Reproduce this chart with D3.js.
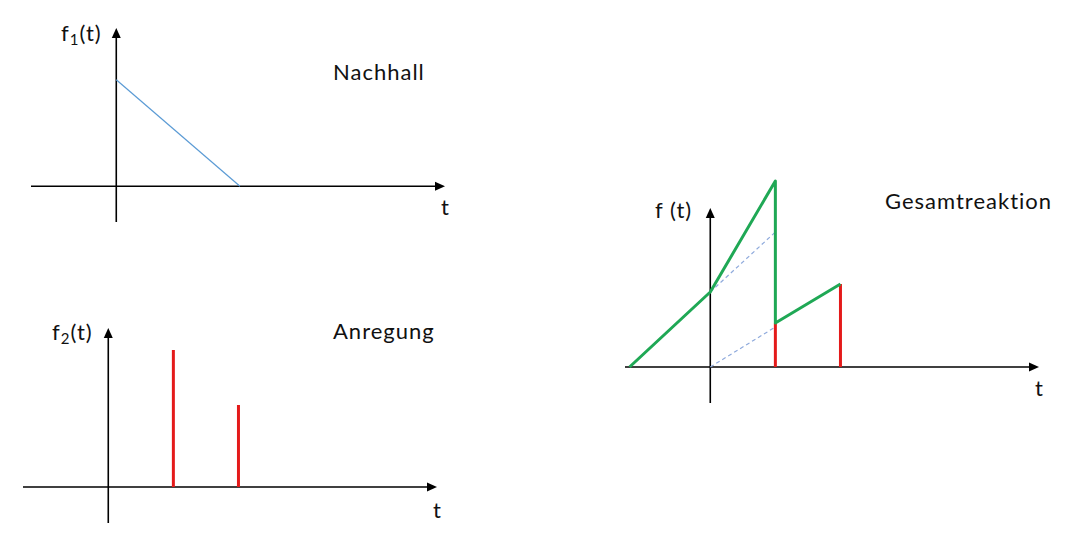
<!DOCTYPE html>
<html><head><meta charset="utf-8">
<script src="https://cdn.jsdelivr.net/npm/d3@7"></script>
<style>body{margin:0;background:#fff}svg{display:block}text{font-family:Lato,"Open Sans",sans-serif;fill:#111;letter-spacing:1px;font-variant-ligatures:none}</style>
</head><body>
<svg id="c" width="1086" height="545"></svg>
<script>
// Data (time units; amplitude units)
const nachhall = [{t:0, v:1.07}, {t:1.9, v:0}];
const anregung = [{t:1, v:1.37}, {t:2, v:0.82}];
const gesamt = [{t:-1.24, v:0}, {t:0, v:0.75}, {t:1, v:1.86}, {t:1, v:0.44}, {t:2, v:0.83}];
const gesamtPulses = [{t:1, v:0.44}, {t:2, v:0.83}];
const dashed1 = [{t:0, v:0.75}, {t:1, v:1.35}];
const dashed2 = [{t:0, v:0}, {t:1, v:0.40}];
const titles = ["Nachhall", "Anregung", "Gesamtreaktion"];
const ylabels = [["f","1","(t)"], ["f","2","(t)"], ["f ","","(t)"]];
const tDomain = [-1.31, 5.05];
const vDomain = [-0.36, 1.59];

const svg = d3.select("#c");
const panels = [
  {x0:31, x1:445, y0:222, y1:28, title:[333,80], ylab:[61,41], tl:[441,215]},
  {x0:23, x1:437, y0:523, y1:328, title:[333,339], ylab:[52,340], tl:[433,518]},
  {x0:625, x1:1039, y0:403, y1:208, title:[885,209], ylab:[655,218], tl:[1035,396]}
];

function setup(p, i) {
  const x = d3.scaleLinear().domain(tDomain).range([p.x0, p.x1]);
  const y = d3.scaleLinear().domain(vDomain).range([p.y0, p.y1]);
  const g = svg.append("g");
  g.append("line").attr("x1", x(tDomain[0])).attr("x2", x(tDomain[1]) - 8)
    .attr("y1", y(0)).attr("y2", y(0)).attr("stroke", "#000").attr("stroke-width", 1.6);
  g.append("line").attr("x1", x(0)).attr("x2", x(0))
    .attr("y1", y(vDomain[0])).attr("y2", y(vDomain[1]) + 8).attr("stroke", "#000").attr("stroke-width", 1.6);
  const tx = x(tDomain[1]), ty = y(0);
  g.append("path").attr("d", `M${tx},${ty} L${tx-10},${ty-4.5} L${tx-10},${ty+4.5} Z`).attr("fill", "#000");
  const ax = x(0), ay = y(vDomain[1]);
  g.append("path").attr("d", `M${ax},${ay} L${ax-4.5},${ay+10} L${ax+4.5},${ay+10} Z`).attr("fill", "#000");
  g.append("text").attr("x", p.title[0]).attr("y", p.title[1]).attr("font-size", 22).text(titles[i]);
  g.append("text").attr("x", p.tl[0]).attr("y", p.tl[1]).attr("font-size", 22).text("t");
  const yl = g.append("text").attr("x", p.ylab[0]).attr("y", p.ylab[1]).attr("font-size", 22);
  yl.append("tspan").text(ylabels[i][0]);
  if (ylabels[i][1]) yl.append("tspan").attr("font-size", 15).attr("dy", 4).text(ylabels[i][1]);
  yl.append("tspan").attr("dy", ylabels[i][1] ? -4 : 0).text(ylabels[i][2]);
  return {g, x, y};
}

const line = (x, y) => d3.line().x(d => x(d.t)).y(d => y(d.v));

{
  const {g, x, y} = setup(panels[0], 0);
  g.append("path").datum(nachhall).attr("d", line(x, y)).attr("fill", "none")
    .attr("stroke", "#5b9bd5").attr("stroke-width", 1.2);
}
{
  const {g, x, y} = setup(panels[1], 1);
  g.selectAll("line.p").data(anregung).join("line").attr("class", "p")
    .attr("x1", d => x(d.t)).attr("x2", d => x(d.t)).attr("y1", y(0)).attr("y2", d => y(d.v))
    .attr("stroke", "#e41a1a").attr("stroke-width", 3);
}
{
  const {g, x, y} = setup(panels[2], 2);
  [dashed1, dashed2].forEach(d => g.append("path").datum(d).attr("d", line(x, y)).attr("fill", "none")
    .attr("stroke", "#8faadc").attr("stroke-width", 1.2).attr("stroke-dasharray", "4,3"));
  g.selectAll("line.p").data(gesamtPulses).join("line").attr("class", "p")
    .attr("x1", d => x(d.t)).attr("x2", d => x(d.t)).attr("y1", y(0)).attr("y2", d => y(d.v))
    .attr("stroke", "#e41a1a").attr("stroke-width", 3);
  g.append("path").datum(gesamt).attr("d", line(x, y)).attr("fill", "none")
    .attr("stroke", "#1fa855").attr("stroke-width", 3).attr("stroke-linejoin", "round");
}
</script>
</body></html>
